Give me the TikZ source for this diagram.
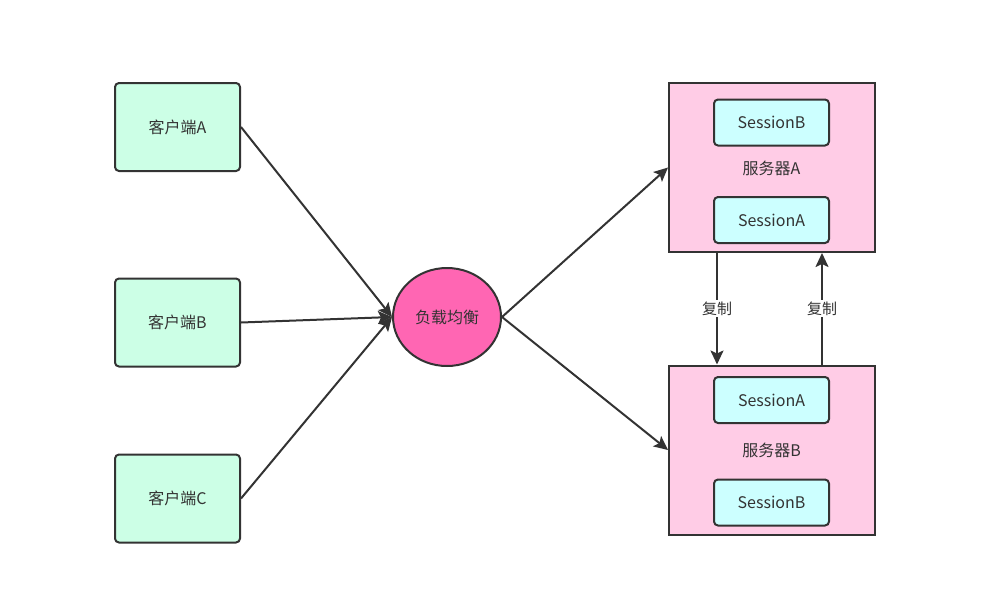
\documentclass[tikz,border=0pt]{standalone}
\usepackage{fontspec}
\setmainfont{Noto Sans CJK SC}
\usetikzlibrary{shapes.geometric,arrows.meta}
\definecolor{edge}{HTML}{333333}
\definecolor{mint}{HTML}{CCFFE6}
\definecolor{hot}{HTML}{FF66B3}
\definecolor{pinkbg}{HTML}{FFCCE6}
\definecolor{cyanbg}{HTML}{CCFFFF}
\tikzset{
  client/.style={draw=edge, line width=2pt, fill=mint, rounded corners=4pt,
    minimum width=125pt, minimum height=88pt, text=edge, font=\fontsize{16}{19}\selectfont},
  lbnode/.style={draw=edge, line width=2pt, fill=hot, ellipse,
    minimum width=108pt, minimum height=98pt, inner sep=0pt, text=edge, font=\fontsize{16}{19}\selectfont},
  server/.style={draw=edge, line width=2pt, fill=pinkbg,
    minimum width=206pt, minimum height=169pt},
  sess/.style={draw=edge, line width=2pt, fill=cyanbg, rounded corners=4pt,
    minimum width=115pt, minimum height=46pt, text=edge, font=\fontsize{16}{19}\selectfont},
  lbl/.style={text=edge, font=\fontsize{16}{19}\selectfont},
  arr/.style={draw=edge, line width=2pt, -{Stealth[length=14pt,width=13pt,inset=3pt]}},
  replbl/.style={fill=white, text=edge, inner sep=1.5pt, font=\fontsize{15}{17}\selectfont}
}
\begin{document}
\begin{tikzpicture}[x=1pt,y=-1pt]
\useasboundingbox (0,0) rectangle (1000,600);
\node[client] (ca) at (177.5,127) {客户端A};
\node[client] (cb) at (177.5,322.5) {客户端B};
\node[client] (cc) at (177.5,498.5) {客户端C};
\node[lbnode] (lb) at (447,317) {负载均衡};
\node[server] (sa) at (772,167.5) {};
\node[server] (sb) at (772,450) {};
\node[sess] (sab) at (771.5,122.5) {SessionB};
\node[lbl] (salbl) at (771.5,168) {服务器A};
\node[sess] (saa) at (771.5,220) {SessionA};
\node[sess] (sba) at (771.5,400) {SessionA};
\node[lbl] (sblbl) at (771.5,450) {服务器B};
\node[sess] (sbb) at (771.5,502.5) {SessionB};
\draw[arr] (ca.east) -- (lb.west);
\draw[arr] (cb.east) -- (lb.west);
\draw[arr] (cc.east) -- (lb.west);
\draw[arr] (lb.east) -- (sa.west);
\draw[arr] (lb.east) -- (sb.west);
\coordinate (r1) at (717,0);
\coordinate (r2) at (822,0);
\draw[arr] (r1 |- sa.south) -- node[replbl] {复制} (r1 |- sb.north);
\draw[arr] (r2 |- sb.north) -- node[replbl] {复制} (r2 |- sa.south);
\end{tikzpicture}
\end{document}
